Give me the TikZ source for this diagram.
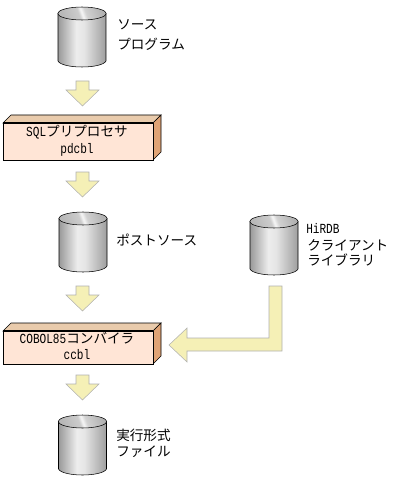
\documentclass[tikz,border=0pt]{standalone}
\usepackage{fontspec}
\setmainfont{Noto Sans CJK JP}
\setmonofont[Scale=1.02,FakeStretch=0.8]{Liberation Mono}
\usepackage{xcolor}
\usetikzlibrary{
	calc,
	shadings
}
\definecolor{BoxFront}{RGB}{255,229,214}
\definecolor{BoxTop}{RGB}{233,203,172}
\definecolor{BoxSide}{RGB}{224,163,117}
\definecolor{ArrowFill}{RGB}{245,240,182}
\definecolor{ArrowEdge}{RGB}{176,176,176}
\pgfdeclarehorizontalshading{drumbody}{100bp}{
	color(0bp)=(black!40);
	color(25bp)=(black!40);
	color(44bp)=(black!7);
	color(52bp)=(black!10);
	color(75bp)=(black!38);
	color(100bp)=(black!38)
}
\pgfdeclarehorizontalshading{drumlid}{100bp}{
	color(0bp)=(black!28);
	color(25bp)=(black!28);
	color(46bp)=(black!20);
	color(50bp)=(black!3);
	color(55bp)=(black!18);
	color(75bp)=(black!30);
	color(100bp)=(black!30)
}
\tikzset{
	txt/.style={font=\fontsize{10.2pt}{12pt}\selectfont, inner sep=0pt},
	side/.style={txt, anchor=west},
	pics/drum/.style={code={
		\draw[shading=drumbody] (0,6.5) -- (0,54) .. controls (4,62) and (44,62) .. (48,54) -- (48,6.5) -- cycle;
		\draw[shading=drumlid, shading angle=20] (24,6.5) ellipse [x radius=24, y radius=6.5];
	}},
	pics/crate/.style={code={
		\draw[fill=BoxTop] (0,8) -- (8,0) -- (158,0) -- (150,8) -- cycle;
		\draw[fill=BoxSide] (150,8) -- (158,0) -- (158,#1-8) -- (150,#1) -- cycle;
		\draw[fill=BoxFront] (0,8) rectangle (150,#1);
		\draw[thick] (0,8) -- (150,8);
	}},
	blockfill/.style={draw=ArrowEdge, fill=ArrowFill},
	pics/downblock/.style={code={
		\draw[blockfill] (10,0) -- (23,0) -- (23,9) -- (33,9) -- (16.5,25) -- (0,9) -- (10,9) -- cycle;
	}}
}
\begin{document}
\begin{tikzpicture}[x=0.75pt, y=-0.75pt]
	\useasboundingbox (0,0) rectangle (406,481);
	\pic at (58,7) {drum};
	\pic at (59,212) {drum};
	\pic at (250,215) {drum};
	\pic at (58.5,415) {drum};
	\pic at (66,81) {downblock};
	\pic at (66,172) {downblock};
	\pic at (66,286) {downblock};
	\pic at (66,375) {downblock};
	\pic at (3,115) {crate=45};
	\pic at (3,323) {crate=41};
	\draw[blockfill] (269,286) -- (282,286) -- (282,351) -- (187,351) -- (187,362) -- (169,345) -- (187,328) -- (187,338) -- (269,338) -- cycle;
	\node[side] (src1) at (117,25) {ソース};
	\node[side] (src2) at (117,44) {プログラム};
	\node[txt] (pre1) at (77,132) {{\ttfamily SQL}プリプロセサ};
	\node[txt] (pre2) at (77,150) {\ttfamily pdcbl};
	\node[side] (post) at (116,240) {ポストソース};
	\node[side] (lib1) at (306,228) {\ttfamily HiRDB};
	\node[side] (lib2) at (307,245) {クライアント};
	\node[side] (lib3) at (307,260) {ライブラリ};
	\node[txt] (cob1) at (77,338) {{\ttfamily COBOL85}コンバイラ};
	\node[txt] (cob2) at (77,355) {\ttfamily ccbl};
	\node[side] (exe1) at (116,435) {実行形式};
	\node[side] (exe2) at (116,452) {ファイル};
\end{tikzpicture}
\end{document}
